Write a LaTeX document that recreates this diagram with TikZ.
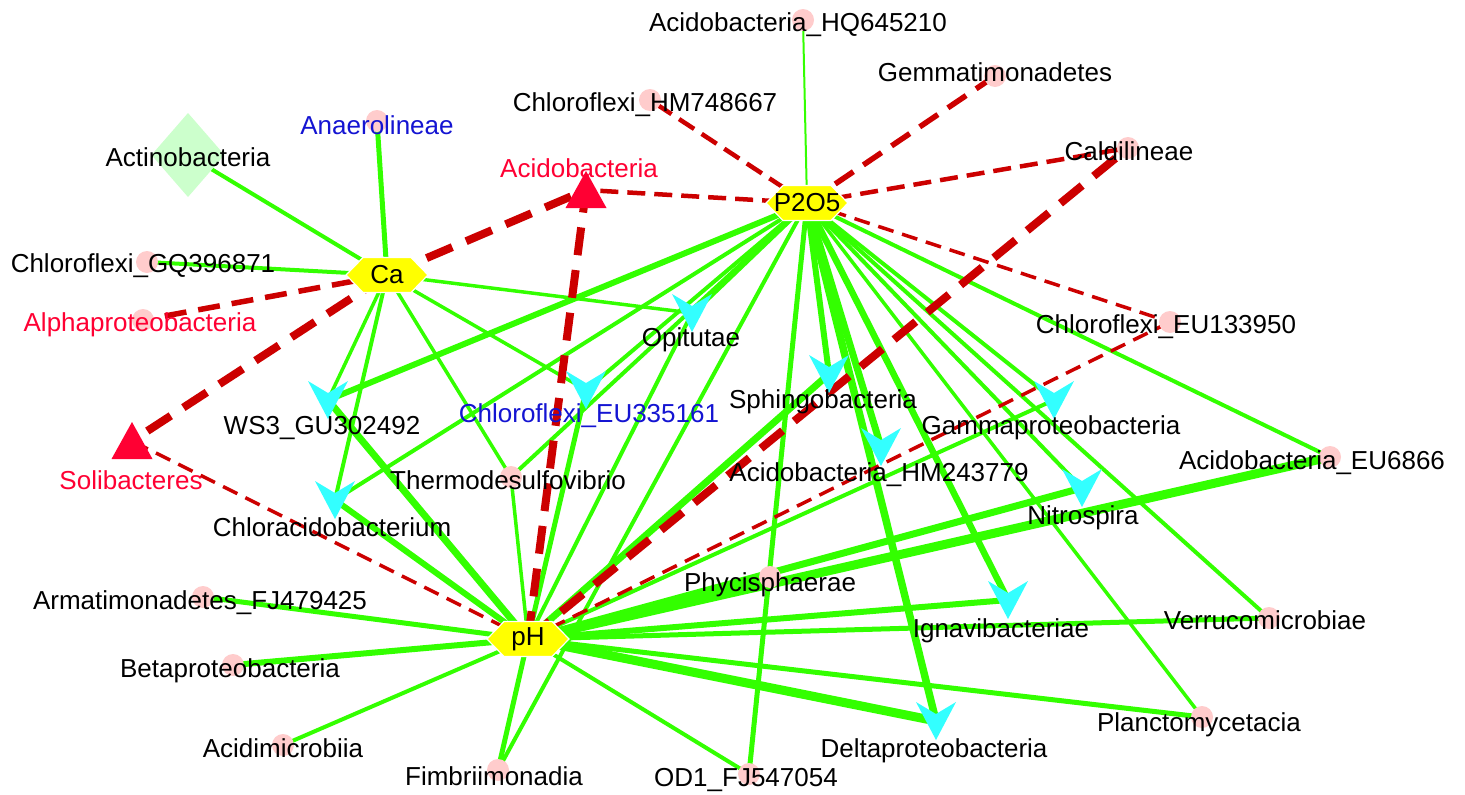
\documentclass[tikz,border=0pt]{standalone}
\usepackage{fontspec}
\setmainfont{Liberation Sans}
\newcommand\mylabfont{\fontsize{26}{30}\selectfont}
\definecolor{egreen}{RGB}{51,255,0}
\definecolor{ered}{RGB}{204,0,0}
\definecolor{vcyan}{RGB}{51,255,255}
\definecolor{pinkc}{RGB}{255,204,204}
\definecolor{dgreen}{RGB}{204,255,204}
\definecolor{tred}{RGB}{255,0,51}
\definecolor{tblue}{RGB}{20,20,210}
\definecolor{hubyellow}{RGB}{255,255,0}
\pgfdeclarelayer{bg}
\pgfdeclarelayer{edges}
\pgfdeclarelayer{shapes}
\pgfdeclarelayer{labels}
\pgfsetlayers{bg,edges,shapes,main,labels}
\begin{document}
\begin{tikzpicture}[x=1pt,y=-1pt,
  hub/.style={inner sep=0pt,font=\mylabfont},
  mark node/.style={inner sep=0pt,minimum size=2pt},
  dot/.style={circle,fill=pinkc,minimum size=22pt,inner sep=0pt},
  lbl/.style={anchor=base,inner sep=0pt,font=\mylabfont,text=black},
  g/.style={draw=egreen,line width=#1pt},
  rA/.style={draw=ered,line width=3.5pt,dash pattern=on 16pt off 9pt},
  rB/.style={draw=ered,line width=4.5pt,dash pattern=on 18pt off 9pt},
  rC/.style={draw=ered,line width=5.5pt,dash pattern=on 22pt off 12pt},
  rD/.style={draw=ered,line width=8pt,dash pattern=on 28pt off 15pt}
]
\begin{pgfonlayer}{bg}
\fill[white] (0,0) rectangle (1465,795);
\end{pgfonlayer}
\useasboundingbox (0,0) rectangle (1465,795);

% hubs
\node[hub] (ca) at (387,275) {Ca};
\node[hub] (p2o5) at (807,203) {P2O5};
\node[hub] (ph) at (528,639) {pH};
% special shapes
\node[mark node] (act) at (188,155) {};
\node[mark node] (acido) at (586,190) {};
\node[mark node] (soli) at (132,441) {};
% V nodes
\node[mark node] (ws3) at (328,400) {};
\node[mark node] (eu335) at (586,390) {};
\node[mark node] (opit) at (692,313) {};
\node[mark node] (chlorac) at (335,500) {};
\node[mark node] (sphingo) at (829,374) {};
\node[mark node] (hm243) at (881,447) {};
\node[mark node] (gamma) at (1054,400) {};
\node[mark node] (nitro) at (1082,488) {};
\node[mark node] (ignavi) at (1008,600) {};
\node[mark node] (delta) at (936,721) {};
% dots
\node[dot] (hq645) at (803,20) {};
\node[dot] (hm748) at (650,100) {};
\node[dot] (gemma) at (995,76) {};
\node[dot] (caldi) at (1128,148) {};
\node[dot] (anaero) at (377,121) {};
\node[dot] (gq396) at (147,262) {};
\node[dot] (alpha) at (143,320) {};
\node[dot] (eu133) at (1170,322) {};
\node[dot] (thermo) at (511,477) {};
\node[dot] (eu6866) at (1330,457) {};
\node[dot] (phycis) at (770,577) {};
\node[dot] (armat) at (203,597) {};
\node[dot] (verru) at (1269,618) {};
\node[dot] (beta) at (233,665) {};
\node[dot] (plancto) at (1202,717) {};
\node[dot] (acidim) at (283,745) {};
\node[dot] (fimbri) at (498,770) {};
\node[dot] (od1) at (749,774) {};

\begin{pgfonlayer}{shapes}
\foreach \n in {ca,p2o5,ph}
  \filldraw[fill=hubyellow,draw=white,line width=1.2pt]
    ([shift={(-41pt,0pt)}]\n.center) -- ([shift={(-24pt,17.5pt)}]\n.center) --
    ([shift={(24pt,17.5pt)}]\n.center) -- ([shift={(41pt,0pt)}]\n.center) --
    ([shift={(24pt,-17.5pt)}]\n.center) -- ([shift={(-24pt,-17.5pt)}]\n.center) -- cycle;
\foreach \n in {ws3,eu335,opit,chlorac,sphingo,hm243,gamma,nitro,ignavi,delta}
  \fill[vcyan] ([shift={(-20pt,19pt)}]\n.center) -- ([shift={(0pt,7pt)}]\n.center) --
    ([shift={(20pt,19pt)}]\n.center) -- ([shift={(0pt,-19pt)}]\n.center) -- cycle;
\foreach \n in {acido,soli}
  \fill[tred] ([shift={(0pt,19pt)}]\n.center) -- ([shift={(20.5pt,-18pt)}]\n.center) --
    ([shift={(-20.5pt,-18pt)}]\n.center) -- cycle;
\fill[dgreen] ([shift={(0pt,42pt)}]act.center) -- ([shift={(36.5pt,0pt)}]act.center) --
  ([shift={(0pt,-42pt)}]act.center) -- ([shift={(-36.5pt,0pt)}]act.center) -- cycle;
\end{pgfonlayer}

\begin{pgfonlayer}{edges}
% Ca green
\draw[g=4] (ca.center) -- (act.center);
\draw[g=5] (ca.center) -- (anaero.center);
\draw[g=4] (ca.center) -- (gq396.center);
\draw[g=3.5] (ca.center) -- (ws3.center);
\draw[g=4] (ca.center) -- (chlorac.center);
\draw[g=3.5] (ca.center) -- (thermo.center);
\draw[g=3.5] (ca.center) -- (eu335.center);
\draw[g=3.5] (ca.center) -- (opit.center);
% P2O5 green
\draw[g=2] (p2o5.center) -- (hq645.center);
\draw[g=6] (p2o5.center) -- (ws3.center);
\draw[g=4] (p2o5.center) -- (chlorac.center);
\draw[g=6] (p2o5.center) -- (opit.center);
\draw[g=4] (p2o5.center) -- (thermo.center);
\draw[g=4] (p2o5.center) -- (eu335.center);
\draw[g=4] (p2o5.center) -- (fimbri.center);
\draw[g=5] (p2o5.center) -- (od1.center);
\draw[g=6] (p2o5.center) -- (sphingo.center);
\draw[g=7] (p2o5.center) -- (hm243.center);
\draw[g=7.5] (p2o5.center) -- (delta.center);
\draw[g=6.5] (p2o5.center) -- (ignavi.center);
\draw[g=3.5] (p2o5.center) -- (plancto.center);
\draw[g=4] (p2o5.center) -- (nitro.center);
\draw[g=4] (p2o5.center) -- (verru.center);
\draw[g=4] (p2o5.center) -- (gamma.center);
\draw[g=4] (p2o5.center) -- (eu6866.center);
% pH green
\draw[g=7] (ph.center) -- (ws3.center);
\draw[g=6] (ph.center) -- (chlorac.center);
\draw[g=3.5] (ph.center) -- (thermo.center);
\draw[g=5] (ph.center) -- (eu335.center);
\draw[g=4] (ph.center) -- (opit.center);
\draw[g=7] (ph.center) -- (sphingo.center);
\draw[g=4] (ph.center) -- (gamma.center);
\draw[g=9] (ph.center) -- (eu6866.center);
\draw[g=7] (ph.center) -- (nitro.center);
\draw[g=7] (ph.center) -- (phycis.center);
\draw[g=6] (ph.center) -- (ignavi.center);
\draw[g=5] (ph.center) -- (verru.center);
\draw[g=5] (ph.center) -- (plancto.center);
\draw[g=9] (ph.center) -- (delta.center);
\draw[g=4] (ph.center) -- (od1.center);
\draw[g=5] (ph.center) -- (fimbri.center);
\draw[g=4] (ph.center) -- (acidim.center);
\draw[g=6] (ph.center) -- (beta.center);
\draw[g=5] (ph.center) -- (armat.center);
% red dashed
\draw[rC] (ca.center) -- (alpha.center);
\draw[rD] (ca.center) -- (acido.center);
\draw[rD] (ca.center) -- (soli.center);
\draw[rB] (p2o5.center) -- (hm748.center);
\draw[rC] (p2o5.center) -- (gemma.center);
\draw[rB] (p2o5.center) -- (caldi.center);
\draw[rB] (p2o5.center) -- (acido.center);
\draw[rA] (p2o5.center) -- (eu133.center);
\draw[rA] (ph.center) -- (soli.center);
\draw[rD] (ph.center) -- (acido.center);
\draw[rD] (ph.center) -- (caldi.center);
\draw[rA] (ph.center) -- (eu133.center);
\end{pgfonlayer}

\begin{pgfonlayer}{labels}
\node[lbl] (l-hq645) at (798,31) {Acidobacteria\_HQ645210};
\node[lbl] (l-hm748) at (645,111) {Chloroflexi\_HM748667};
\node[lbl] (l-gemma) at (995,81) {Gemmatimonadetes};
\node[lbl] (l-caldi) at (1129,160) {Caldilineae};
\node[lbl,text=tblue] (l-anaero) at (377,134) {Anaerolineae};
\node[lbl] (l-act) at (188,166) {Actinobacteria};
\node[lbl,text=tred] (l-acido) at (579,177) {Acidobacteria};
\node[lbl] (l-gq396) at (143,272) {Chloroflexi\_GQ396871};
\node[lbl,text=tred] (l-alpha) at (140,331) {Alphaproteobacteria};
\node[lbl] (l-eu133) at (1166,333) {Chloroflexi\_EU133950};
\node[lbl] (l-opit) at (691,346) {Opitutae};
\node[lbl] (l-ws3) at (322,434) {WS3\_GU302492};
\node[lbl,text=tblue] (l-eu335) at (589,422) {Chloroflexi\_EU335161};
\node[lbl] (l-sphingo) at (823,408) {Sphingobacteria};
\node[lbl] (l-gamma) at (1051,434) {Gammaproteobacteria};
\node[lbl] (l-hm243) at (879,481) {Acidobacteria\_HM243779};
\node[lbl] (l-eu6866) at (1312,469) {Acidobacteria\_EU6866};
\node[lbl,text=tred] (l-soli) at (131,489) {Solibacteres};
\node[lbl] (l-thermo) at (508,489) {Thermodesulfovibrio};
\node[lbl] (l-nitro) at (1083,524) {Nitrospira};
\node[lbl] (l-chlorac) at (332,536) {Chloracidobacterium};
\node[lbl] (l-phycis) at (770,591) {Phycisphaerae};
\node[lbl] (l-armat) at (200,609) {Armatimonadetes\_FJ479425};
\node[lbl] (l-ignavi) at (1001,637) {Ignavibacteriae};
\node[lbl] (l-verru) at (1265,629) {Verrucomicrobiae};
\node[lbl] (l-beta) at (230,677) {Betaproteobacteria};
\node[lbl] (l-plancto) at (1199,731) {Planctomycetacia};
\node[lbl] (l-delta) at (934,757) {Deltaproteobacteria};
\node[lbl] (l-acidim) at (283,757) {Acidimicrobiia};
\node[lbl] (l-fimbri) at (494,785) {Fimbriimonadia};
\node[lbl] (l-od1) at (746,786) {OD1\_FJ547054};
\end{pgfonlayer}
\end{tikzpicture}
\end{document}
